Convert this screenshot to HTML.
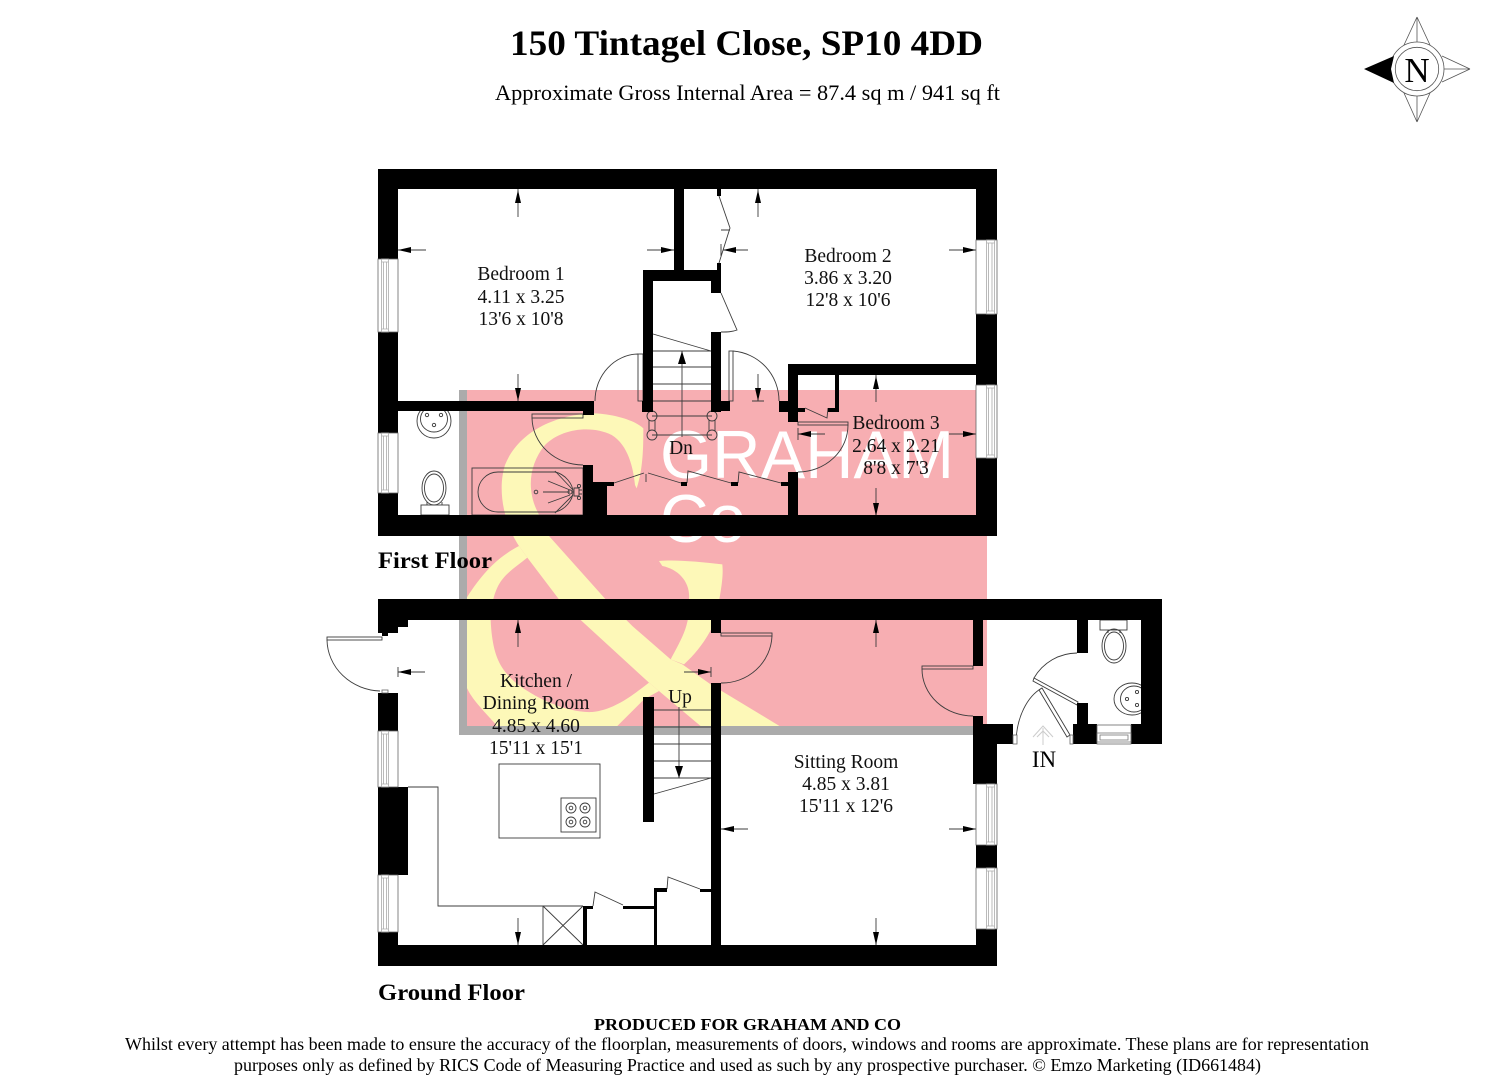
<!DOCTYPE html>
<html><head><meta charset="utf-8"><style>html,body{margin:0;padding:0;background:#fff}svg{display:block}text{font-family:"Liberation Serif",serif;fill:#000}.l{font-size:19.5px;text-anchor:middle;fill:#111}</style></head><body>
<svg width="1494" height="1080" viewBox="0 0 1494 1080" xmlns="http://www.w3.org/2000/svg">
<defs><clipPath id="c"><rect x="467" y="390" width="520" height="336"/></clipPath></defs>
<!-- watermark -->
<rect x="459" y="390" width="528" height="345" fill="#f7aeb2"/>
<rect x="459" y="390" width="8" height="345" fill="#ababab"/>
<rect x="459" y="726" width="528" height="9" fill="#ababab"/>
<g clip-path="url(#c)">
<g transform="translate(455 385) scale(.33333)" fill="#fdf8b8">
<path d="M545 310C565 250 565 180 565 130C540 105 470 85 410 85C300 90 190 140 150 240C125 320 150 420 192 483L217 518L312 643L377 705L582 893L612 918L745 1030L985 1030L767 898L682 838L647 823L532 723L452 643L282 453L250 385C215 320 220 240 270 180C320 130 410 120 470 150C520 180 535 250 540 300Z"/>
<path d="M192 483C130 515 82 563 32 643L30 703L30 893C40 930 72 963 122 1018L122 1030L480 1030L567 943L612 918L582 893C540 925 480 975 412 981C340 985 240 940 182 893C140 855 112 820 107 705C107 660 120 610 142 583C165 555 190 540 217 518Z"/>
<path d="M612 528C660 523 730 530 802 538C805 570 802 600 782 703C770 735 740 790 687 838L647 823C680 760 707 720 702 643C707 593 672 553 622 543Z"/>
</g>
<g fill="#fff" font-size="68"><text x="660" y="478" textLength="294" lengthAdjust="spacingAndGlyphs" style="font-family:'Liberation Sans',sans-serif;fill:#fff">GRAHAM</text>
<text x="660" y="542" textLength="86" lengthAdjust="spacingAndGlyphs" style="font-family:'Liberation Sans',sans-serif;fill:#fff">Co</text></g>
</g>

<!-- thin linework -->
<g fill="none" stroke="#3c3c3c" stroke-width=".9">
<!-- doors FF -->
<rect x="532" y="414" width="51" height="4"/><path d="M532 418A51 48 0 0 0 583 465"/>
<rect x="638" y="354" width="5" height="47"/><path d="M638 354A44 47 0 0 0 595 401"/>
<rect x="729" y="351" width="4" height="50"/><path d="M733 351A50 50 0 0 1 779 401"/>
<rect x="798" y="422" width="50" height="3"/><path d="M848 425A50 47 0 0 1 798 472"/>
<path d="M719 196L730 228L719 263M721 230H730M721 247V255"/>
<path d="M721 293L737 330C732 332 727 332 721 332"/>
<path d="M805 408L827 418L828 408"/>
<!-- stairs FF -->
<path d="M653 334L711 351M653 351H711M653 367H711M653 384H711M653 401H711M652 416H712M652 435H712M682 437V351"/>
<path d="M649 420V431M655 420V431M709 420V431M715 420V431"/>
<circle cx="652" cy="416" r="5"/><circle cx="652" cy="435" r="5"/><circle cx="712" cy="416" r="5"/><circle cx="712" cy="435" r="5"/>
<!-- folding doors -->
<path d="M614 483L644 473M648 473L681 483M646 474V482M687 483L688 471L731 483M738 483L739 472L781 483"/>
<!-- bath -->
<rect x="472" y="468" width="111" height="47"/>
<path d="M498 472H555C565 474 573 484 573 492C573 500 565 510 555 512H498C486 512 478 502 478 492C478 482 486 472 498 472Z"/>
<path d="M548 481L570 490M543 492H570M548 503L570 495M555 471L573 490M555 513L573 495"/>
<circle cx="536" cy="492" r="1.8"/><circle cx="570" cy="492" r="2"/><path d="M574 488V496H579V488ZM579 490H582M579 494H582"/><circle cx="579" cy="486" r="1.6"/><circle cx="579" cy="498" r="1.6"/>
<!-- basin/toilet FF -->
<ellipse cx="434" cy="421" rx="17" ry="17"/><ellipse cx="434" cy="419" rx="13.5" ry="13"/>
<circle cx="427" cy="415" r="1.7"/><circle cx="441" cy="415" r="1.7"/><circle cx="434" cy="425" r="1.7"/>
<ellipse cx="434" cy="488" rx="12" ry="17"/><ellipse cx="434" cy="488" rx="9.5" ry="14"/>
<rect x="421" y="505" width="28" height="10"/><path d="M427 505V502M442 505V502"/>
<!-- GF doors -->
<rect x="327" y="637" width="55" height="3"/><path d="M327 640A55 52 0 0 0 380 691"/>
<rect x="721" y="633" width="51" height="3"/><path d="M772 636A50 49 0 0 1 721 683"/>
<rect x="922" y="666" width="51" height="3"/><path d="M922 669A51 47 0 0 0 973 716"/>
<!-- kitchen -->
<path d="M408 787H438V906H583M543 906V945M543 906L583 945M583 906L543 945"/>
<rect x="499" y="764" width="101" height="74"/><rect x="561" y="798" width="35" height="34"/>
<circle cx="571" cy="808" r="5"/><circle cx="585" cy="808" r="5"/><circle cx="571" cy="822" r="5"/><circle cx="585" cy="822" r="5"/>
<circle cx="571" cy="808" r="1.8"/><circle cx="585" cy="808" r="1.8"/><circle cx="571" cy="822" r="1.8"/><circle cx="585" cy="822" r="1.8"/>
<path d="M593 906L595 892L623 905M667 889L668 877L700 889"/>
<path d="M654 710H711M654 727H711M654 744H711M654 761H711M654 778H711M654 794L711 778M679 707V778"/>
<!-- hall doors -->
<path d="M1034 678A50 50 0 0 1 1077 653"/><path d="M1034 678L1078 702L1077 705L1033 681Z" fill="#fff"/>
<path d="M1042 688A40 60 0 0 0 1016 742"/><path d="M1042 688L1070 735L1067 737L1039 690Z" fill="#fff"/>
<!-- GF toilet/basin -->
<rect x="1100" y="620" width="27" height="10"/><path d="M1108 630V633M1120 630V633"/>
<ellipse cx="1114" cy="646" rx="12" ry="17"/><ellipse cx="1114" cy="646" rx="9.5" ry="14"/>
<ellipse cx="1132" cy="699" rx="18" ry="16"/><ellipse cx="1134" cy="699" rx="13.5" ry="13"/>
<circle cx="1137" cy="692" r="1.6"/><circle cx="1137" cy="705" r="1.6"/><circle cx="1127" cy="699" r="1.6"/>
<!-- dimension shafts -->
<path d="M518 189V217M398 250H426M674 250H647M518 374V401M758 189V217M723 250H748M976 250H949M758 374V401M752 401H764M876 375V402M798 434H825M976 434H949M876 488V516M518 620V647M398 672H425M398 667V677M711 672H684M711 667V677M518 918V945M876 620V647M721 829H748M976 829H949M876 918V945M721 244V256M798 428V440"/>
</g>
<!-- arrow heads -->
<path fill="#000" d="M518 190l-3 13h6zM398 250l13-3v6zM674 250l-13-3v6zM518 401l-3-13h6zM758 190l-3 13h6zM723 250l13-3v6zM976 250l-13-3v6zM758 401l-3-13h6zM876 376l-3 13h6zM798 434l13-3v6zM976 434l-13-3v6zM876 516l-3-13h6zM518 620l-3 13h6zM398 672l13-3v6zM711 672l-13-3v6zM518 945l-3-13h6zM876 620l-3 13h6zM721 829l13-3v6zM976 829l-13-3v6zM876 945l-3-13h6zM682 351l-4 13h8zM679 778l-4-12h8z"/>

<!-- IN arrow -->
<path d="M1043 728V745M1033 737L1043 726L1053 737M1037 737L1043 731L1049 737" fill="none" stroke="#ccc" stroke-width="1"/>

<!-- walls -->
<g fill="#000">
<rect x="378" y="169" width="619" height="20"/>
<rect x="378" y="169" width="20" height="90"/><rect x="378" y="332" width="20" height="101"/><rect x="378" y="493" width="20" height="43"/>
<rect x="398" y="401" width="196" height="10"/><rect x="583" y="411" width="11" height="4"/>
<rect x="378" y="515" width="619" height="21"/>
<rect x="674" y="189" width="10" height="81"/>
<rect x="643" y="270" width="78" height="11"/><rect x="711" y="281" width="10" height="12"/>
<rect x="643" y="270" width="10" height="142"/><rect x="642" y="401" width="11" height="11"/>
<rect x="711" y="332" width="10" height="80"/><rect x="711" y="401" width="19" height="10"/>
<rect x="717" y="189" width="4" height="7"/><rect x="717" y="263" width="4" height="7"/>
<rect x="788" y="364" width="209" height="11"/><rect x="788" y="364" width="10" height="58"/>
<rect x="779" y="401" width="19" height="11"/><rect x="798" y="408" width="7" height="4"/>
<rect x="835" y="375" width="4" height="37"/><rect x="828" y="408" width="11" height="4"/>
<rect x="788" y="472" width="10" height="44"/>
<rect x="976" y="169" width="21" height="71"/><rect x="976" y="314" width="21" height="71"/><rect x="976" y="458" width="21" height="78"/>
<rect x="583" y="465" width="10" height="51"/><rect x="583" y="482" width="24" height="34"/><rect x="607" y="482" width="7" height="4"/>
<rect x="681" y="482" width="6" height="4"/><rect x="731" y="482" width="7" height="4"/><rect x="781" y="482" width="7" height="4"/>
<!-- ground -->
<rect x="378" y="599" width="784" height="21"/>
<rect x="378" y="620" width="30" height="7"/><rect x="378" y="627" width="20" height="6"/>
<rect x="382" y="633" width="6" height="3"/>
<rect x="378" y="693" width="20" height="38"/><rect x="378" y="787" width="30" height="88"/><rect x="378" y="932" width="20" height="34"/>
<rect x="378" y="945" width="619" height="21"/>
<rect x="583" y="906" width="4" height="39"/><rect x="587" y="906" width="6" height="3"/>
<rect x="623" y="906" width="31" height="3"/><rect x="654" y="888" width="3" height="57"/><rect x="657" y="888" width="10" height="4"/><rect x="700" y="889" width="11" height="3"/>
<rect x="711" y="683" width="10" height="262"/><rect x="711" y="620" width="10" height="13"/>
<rect x="643" y="697" width="11" height="125"/>
<rect x="973" y="620" width="10" height="46"/><rect x="973" y="716" width="10" height="8"/>
<rect x="973" y="724" width="40" height="20"/><rect x="973" y="724" width="24" height="60"/>
<rect x="976" y="845" width="21" height="23"/><rect x="976" y="929" width="21" height="37"/>
<rect x="1077" y="620" width="11" height="33"/><rect x="1077" y="703" width="11" height="22"/>
<rect x="1073" y="724" width="24" height="20"/><rect x="1131" y="724" width="31" height="20"/>
<rect x="1141" y="599" width="21" height="145"/>
</g>
<!-- windows -->
<g fill="#fff" stroke="#666" stroke-width=".8">
<rect x="378" y="259" width="20" height="73"/><rect x="378" y="433" width="20" height="60"/>
<rect x="976" y="240" width="21" height="74"/><rect x="976" y="385" width="21" height="73"/>
<rect x="378" y="731" width="20" height="56"/><rect x="378" y="875" width="20" height="57"/>
<rect x="976" y="784" width="21" height="61"/><rect x="976" y="868" width="21" height="61"/>
<rect x="1097" y="725" width="34" height="19"/>
<rect x="1013" y="735" width="4" height="9"/><rect x="1070" y="735" width="3" height="9"/>
<rect x="382" y="690" width="6" height="3"/>
</g>
<g fill="none" stroke="#aaa" stroke-width=".8">
<rect x="381.5" y="259" width="7" height="73"/><path d="M383.5 262V329M386.5 262V329M381.5 262H388.5M381.5 329H388.5"/>
<rect x="381.5" y="433" width="7" height="60"/><path d="M383.5 436V490M386.5 436V490M381.5 436H388.5M381.5 490H388.5"/>
<rect x="381.5" y="731" width="7" height="56"/><path d="M383.5 734V784M386.5 734V784M381.5 734H388.5M381.5 784H388.5"/>
<rect x="381.5" y="875" width="7" height="57"/><path d="M383.5 878V929M386.5 878V929M381.5 878H388.5M381.5 929H388.5"/>
<rect x="986.5" y="240" width="8" height="74"/><path d="M988.5 243V311M992 243V311M986.5 243H994.5M986.5 311H994.5"/>
<rect x="986.5" y="385" width="8" height="73"/><path d="M988.5 388V455M992 388V455M986.5 388H994.5M986.5 455H994.5"/>
<rect x="986.5" y="784" width="8" height="61"/><path d="M988.5 787V842M992 787V842M986.5 787H994.5M986.5 842H994.5"/>
<rect x="986.5" y="868" width="8" height="61"/><path d="M988.5 871V926M992 871V926M986.5 871H994.5M986.5 926H994.5"/>
<rect x="1097" y="733" width="34" height="9" stroke="#777"/><rect x="1100" y="735" width="28" height="5" stroke="#777"/>
</g>

<!-- compass -->
<g fill="none" stroke="#555" stroke-width=".8">
<path d="M1417 17L1404 45M1417 17L1430 45M1417 17V42M1417 122L1404 93M1417 122L1430 93M1417 122V96M1470 69L1442 56M1470 69L1442 82M1470 69H1444"/>
<circle cx="1417" cy="69" r="27" fill="#fff"/><circle cx="1417" cy="69" r="21.7"/>
</g>
<path d="M1364 69L1394 56L1391 69L1394 83Z" fill="#000"/>
<text x="1417" y="82" font-size="35" text-anchor="middle">N</text>

<!-- text -->
<text x="510" y="55" font-size="36" font-weight="bold" textLength="473" lengthAdjust="spacingAndGlyphs">150 Tintagel Close, SP10 4DD</text>
<text x="495" y="100" font-size="22" textLength="505" lengthAdjust="spacingAndGlyphs">Approximate Gross Internal Area = 87.4 sq m / 941 sq ft</text>

<text class="l" x="521" y="280">Bedroom 1</text><text class="l" x="521" y="303">4.11 x 3.25</text><text class="l" x="521" y="325">13'6 x 10'8</text>
<text class="l" x="848" y="262">Bedroom 2</text><text class="l" x="848" y="284">3.86 x 3.20</text><text class="l" x="848" y="306">12'8 x 10'6</text>
<text class="l" x="896" y="429">Bedroom 3</text><text class="l" x="896" y="452">2.64 x 2.21</text><text class="l" x="896" y="474">8'8 x 7'3</text>
<text class="l" x="681" y="454">Dn</text><text class="l" x="680" y="703">Up</text>
<text class="l" x="536" y="687">Kitchen /</text><text class="l" x="536" y="709">Dining Room</text><text class="l" x="536" y="732">4.85 x 4.60</text><text class="l" x="536" y="754">15'11 x 15'1</text>
<text class="l" x="846" y="768">Sitting Room</text><text class="l" x="846" y="790">4.85 x 3.81</text><text class="l" x="846" y="812">15'11 x 12'6</text>
<text x="1044" y="767" font-size="23" text-anchor="middle">IN</text>

<text x="378" y="568" font-size="23.5" font-weight="bold" textLength="114" lengthAdjust="spacingAndGlyphs">First Floor</text>
<text x="378" y="1000" font-size="23.5" font-weight="bold" textLength="147" lengthAdjust="spacingAndGlyphs">Ground Floor</text>
<text x="594" y="1030" font-size="17" font-weight="bold" textLength="307" lengthAdjust="spacingAndGlyphs">PRODUCED FOR GRAHAM AND CO</text>
<text x="125" y="1050" font-size="18" textLength="1244" lengthAdjust="spacingAndGlyphs">Whilst every attempt has been made to ensure the accuracy of the floorplan, measurements of doors, windows and rooms are approximate. These plans are for representation</text>
<text x="234" y="1071" font-size="18" textLength="1027" lengthAdjust="spacingAndGlyphs">purposes only as defined by RICS Code of Measuring Practice and used as such by any prospective purchaser. © Emzo Marketing (ID661484)</text>
</svg>
</body></html>
